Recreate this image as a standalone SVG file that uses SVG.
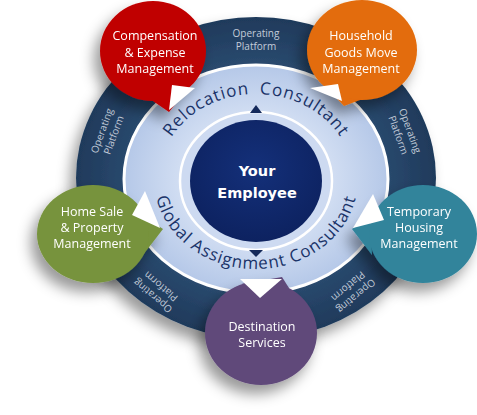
<svg xmlns="http://www.w3.org/2000/svg" xmlns:xlink="http://www.w3.org/1999/xlink" width="477" height="415" viewBox="0 0 477 415">
<defs>
<style>
.bt{font-family:"Open Sans","Liberation Sans",sans-serif;font-size:12.5px;fill:#ffffff;text-anchor:middle}
.op{font-family:"Open Sans","Liberation Sans",sans-serif;font-size:10px;fill:#c3ccd9;text-anchor:middle}
.ct{font-family:"Open Sans","Liberation Sans",sans-serif;font-size:17px;fill:#1a3368;letter-spacing:0.9px}
.emp{font-family:"DejaVu Sans","Liberation Sans",sans-serif;font-weight:bold;font-size:14.5px;fill:#ffffff;text-anchor:middle}
.arrow{fill:#ffffff}
.nub{fill:#14295a}
</style>
<filter id="sh" x="-30%" y="-30%" width="160%" height="170%">
<feDropShadow dx="-6" dy="9" stdDeviation="7" flood-color="#000" flood-opacity="0.4"/>
</filter>
<radialGradient id="gBlue" cx="50%" cy="50%" r="50%">
<stop offset="0.55" stop-color="#d3dff3"/>
<stop offset="1" stop-color="#b5c8e8"/>
</radialGradient>
<radialGradient id="gNavy" cx="50%" cy="50%" r="50%">
<stop offset="0.7" stop-color="#2a4a6f"/>
<stop offset="1" stop-color="#1f3a5b"/>
</radialGradient>
<radialGradient id="gCore" cx="50%" cy="40%" r="60%">
<stop offset="0" stop-color="#14307a"/>
<stop offset="1" stop-color="#0d2260"/>
</radialGradient>
<path id="arcTop" d="M159,179 A97,85 0 0 1 353,179"/>
<path id="arcBot" d="M154,179 A102,90 0 0 0 358,179"/>
</defs>
<rect width="477" height="415" fill="#ffffff"/>

<g id="platform-ring">
<ellipse cx="256" cy="178" rx="180" ry="161" fill="url(#gNavy)" filter="url(#sh)"/>
<text class="op" x="256" y="37">Operating<tspan x="256" y="50">Platform</tspan></text>
<g transform="translate(108,133) rotate(-70)"><text class="op" x="0" y="-3">Operating<tspan x="0" y="9.5">Platform</tspan></text></g>
<g transform="translate(404,133) rotate(70)"><text class="op" x="0" y="-3">Operating<tspan x="0" y="9.5">Platform</tspan></text></g>
<g transform="translate(157,291) rotate(220)"><text class="op" x="0" y="-3">Operating<tspan x="0" y="9.5">Platform</tspan></text></g>
<g transform="translate(352,291) rotate(140)"><text class="op" x="0" y="-3">Operating<tspan x="0" y="9.5">Platform</tspan></text></g>
</g>

<g id="consultant-ring">
<ellipse cx="256" cy="179" rx="132" ry="114" fill="url(#gBlue)" stroke="#ffffff" stroke-width="3"/>
<ellipse cx="256" cy="181" rx="76" ry="69" fill="#cddaf1" stroke="#ffffff" stroke-width="2.5"/>
<text class="ct" word-spacing="5"><textPath xlink:href="#arcTop" startOffset="50%" text-anchor="middle">Relocation Consultant</textPath></text>
<text class="ct"><textPath xlink:href="#arcBot" startOffset="50%" text-anchor="middle">Global Assignment Consultant</textPath></text>
</g>

<g id="employee">
<ellipse cx="256" cy="181" rx="66" ry="61" fill="url(#gCore)"/>
<text class="emp" x="257" y="176">Your</text>
<text class="emp" x="257" y="198">Employee</text>
</g>

<g id="compensation" filter="url(#sh)">
<polygon points="150,99 188,88 169,112" fill="#c00000"/>
<ellipse cx="153" cy="51" rx="53" ry="50" fill="#c00000"/>
<text class="bt" x="155" y="40">Compensation</text>
<text class="bt" x="155" y="57">&amp; Expense</text>
<text class="bt" x="155" y="73">Management</text>
</g>

<g id="household" filter="url(#sh)">
<polygon points="365,98 327,88 344,106" fill="#e36c09"/>
<ellipse cx="362" cy="50" rx="55" ry="50" fill="#e36c09"/>
<text class="bt" x="361" y="40">Household</text>
<text class="bt" x="361" y="57">Goods Move</text>
<text class="bt" x="361" y="73">Management</text>
</g>

<g id="homesale" filter="url(#sh)">
<polygon points="145,217 143,255 163,229" fill="#77933c"/>
<ellipse cx="93" cy="234" rx="56" ry="49" fill="#77933c"/>
<text class="bt" x="92" y="216">Home Sale</text>
<text class="bt" x="92" y="232">&amp; Property</text>
<text class="bt" x="92" y="248">Management</text>
</g>

<g id="housing" filter="url(#sh)">
<polygon points="370,217 372,255 352,229" fill="#31849b"/>
<ellipse cx="423" cy="234" rx="54" ry="49" fill="#31849b"/>
<text class="bt" x="419" y="216">Temporary</text>
<text class="bt" x="419" y="232">Housing</text>
<text class="bt" x="419" y="248">Management</text>
</g>

<g id="destination" filter="url(#sh)">
<polygon points="242,284 289,288 282,277" fill="#60497a"/>
<ellipse cx="261" cy="333" rx="56" ry="52" fill="#60497a"/>
<text class="bt" x="262" y="331">Destination</text>
<text class="bt" x="262" y="347">Services</text>
</g>

<g id="connectors">
<polygon class="nub" points="250,113 262,113 256,105"/>
<polygon class="nub" points="249,250 263,250 256,257"/>
<polygon class="arrow" points="172,85 195,88 169,110"/>
<polygon class="arrow" points="338,84 310,88 342,101"/>
<polygon class="arrow" points="132,215 145,191 160,228"/>
<polygon class="arrow" points="384,220 373,194 353,228"/>
<polygon class="arrow" points="240,279 282,279 260,298"/>
</g>
</svg>
